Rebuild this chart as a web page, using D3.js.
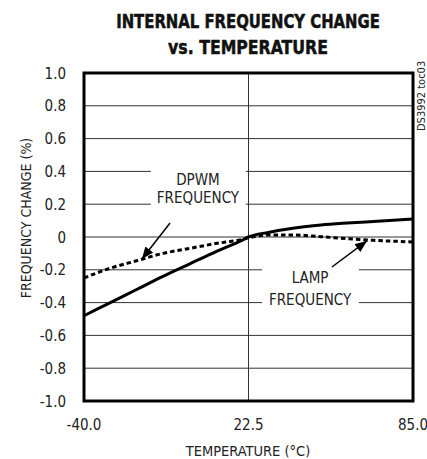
<!DOCTYPE html>
<html><head><meta charset="utf-8">
<script src="https://cdn.jsdelivr.net/npm/d3@7"></script>
<style>
html,body{margin:0;padding:0;background:#fff;}
svg{display:block;}
text{font-family:"Liberation Sans Narrow","DejaVu Sans Condensed","Arial Narrow",sans-serif;fill:#222;}
</style></head>
<body>
<svg id="chart" width="427" height="459"></svg>
<script>
// ---- data ----
const temps = [-40, -30, -20, -10, 0, 10, 20, 22.5, 30, 40, 50, 60, 70, 85];
const solidValues  = [-0.48, -0.40, -0.32, -0.24, -0.165, -0.09, -0.02, 0.0, 0.028, 0.055, 0.073, 0.085, 0.095, 0.11];
const dashedValues = [-0.25, -0.19, -0.145, -0.10, -0.07, -0.04, -0.015, -0.005, 0.012, 0.012, 0.002, -0.01, -0.02, -0.03];
const yTicks = [-1.0, -0.8, -0.6, -0.4, -0.2, 0, 0.2, 0.4, 0.6, 0.8, 1.0];
const yTickLabels = ["-1.0", "-0.8", "-0.6", "-0.4", "-0.2", "0", "0.2", "0.4", "0.6", "0.8", "1.0"];
const xTicks = [-40, 22.5, 85];
const xTickLabels = ["-40.0", "22.5", "85.0"];
const titleLines = ["INTERNAL FREQUENCY CHANGE", "vs. TEMPERATURE"];
const xTitle = "TEMPERATURE (°C)";
const yTitle = "FREQUENCY CHANGE (%)";
const sideNote = "DS3992 toc03";
const labelDPWM = ["DPWM", "FREQUENCY"];
const labelLAMP = ["LAMP", "FREQUENCY"];

// ---- layout ----
const svg = d3.select("#chart");
const L = 84, R = 413, T = 73, B = 401;
const x = d3.scaleLinear().domain([-40, 85]).range([L, R]);
const y = d3.scaleLinear().domain([-1, 1]).range([B, T]);

// title (condensed horizontally to reference width)
const titleWidths = [264, 160];
titleLines.forEach((s, i) => {
  const t = svg.append("text")
    .attr("text-anchor", "middle")
    .attr("font-size", 20).attr("font-weight", "bold")
    .style("fill", "#111").attr("stroke", "#111").attr("stroke-width", 0.5)
    .text(s);
  const w = t.node().getComputedTextLength();
  const sx = Math.min(1, titleWidths[i] / w);
  t.attr("transform", `translate(248,${28 + i * 26}) scale(${sx},1)`);
});

// gridlines
const grid = svg.append("g");
grid.selectAll("line.h").data(yTicks.slice(1, -1)).join("line")
  .attr("x1", L).attr("x2", R).attr("y1", d => y(d)).attr("y2", d => y(d))
  .attr("stroke", "#333").attr("stroke-width", 1);
grid.append("line")
  .attr("x1", x(22.5)).attr("x2", x(22.5)).attr("y1", T).attr("y2", B)
  .attr("stroke", "#333").attr("stroke-width", 1);

// label blocks (white boxes covering gridlines)
function labelBlock(lines, cx, baseVals, padX) {
  const g = svg.append("g");
  const rect = g.append("rect").attr("fill", "#fff");
  g.selectAll("text").data(lines).join("text")
    .attr("x", x(cx)).attr("y", (d, i) => y(baseVals[i]))
    .attr("text-anchor", "middle").attr("font-size", 15)
    .text(d => d);
  const bb = g.node().getBBox();
  rect.attr("x", bb.x - padX).attr("y", bb.y - 3)
    .attr("width", bb.width + 2 * padX).attr("height", bb.height + 6);
}
labelBlock(labelDPWM, 3.3, [0.317, 0.207], 6);
labelBlock(labelLAMP, 45.9, [-0.28, -0.415], 7);

// lines
const line = d3.line().x(d => x(d[0])).y(d => y(d[1])).curve(d3.curveMonotoneX);
svg.append("path").datum(temps.map((t, i) => [t, dashedValues[i]]))
  .attr("d", line).attr("fill", "none").attr("stroke", "#000")
  .attr("stroke-width", 3).attr("stroke-dasharray", "4.5,3");
svg.append("path").datum(temps.map((t, i) => [t, solidValues[i]]))
  .attr("d", line).attr("fill", "none").attr("stroke", "#000")
  .attr("stroke-width", 3);

// arrows
svg.append("defs").append("marker")
  .attr("id", "ah").attr("viewBox", "0 0 12 10").attr("refX", 12).attr("refY", 5)
  .attr("markerWidth", 12).attr("markerHeight", 10).attr("markerUnits", "userSpaceOnUse")
  .attr("orient", "auto")
  .append("path").attr("d", "M0,0 L12,5 L0,10 Z").attr("fill", "#000");
const arrows = [
  { from: [-7.3, 0.085], to: [-18.0, -0.134] },
  { from: [54.2, -0.183], to: [67.5, -0.024] }
];
svg.append("g").selectAll("line").data(arrows).join("line")
  .attr("x1", d => x(d.from[0])).attr("y1", d => y(d.from[1]))
  .attr("x2", d => x(d.to[0])).attr("y2", d => y(d.to[1]))
  .attr("stroke", "#000").attr("stroke-width", 1.5)
  .attr("marker-end", "url(#ah)");

// frame
svg.append("rect").attr("x", L).attr("y", T).attr("width", R - L).attr("height", B - T)
  .attr("fill", "none").attr("stroke", "#000").attr("stroke-width", 3);

// y tick labels
svg.append("g").selectAll("text").data(yTicks).join("text")
  .attr("x", 66).attr("y", d => y(d) + 5.5)
  .attr("text-anchor", "end").attr("font-size", 15)
  .text((d, i) => yTickLabels[i]);

// x tick labels
svg.append("g").selectAll("text").data(xTicks).join("text")
  .attr("x", d => x(d)).attr("y", 430)
  .attr("text-anchor", "middle").attr("font-size", 15)
  .text((d, i) => xTickLabels[i]);

// axis titles
svg.append("text").attr("x", 248).attr("y", 456)
  .attr("text-anchor", "middle").attr("font-size", 14.5).text(xTitle);
svg.append("text").attr("transform", "translate(31,218) rotate(-90)")
  .attr("text-anchor", "middle").attr("font-size", 14).text(yTitle);

// side note
svg.append("text").attr("transform", "translate(425,131) rotate(-90)")
  .attr("text-anchor", "start").attr("font-size", 11).text(sideNote);
</script>
</body></html>
